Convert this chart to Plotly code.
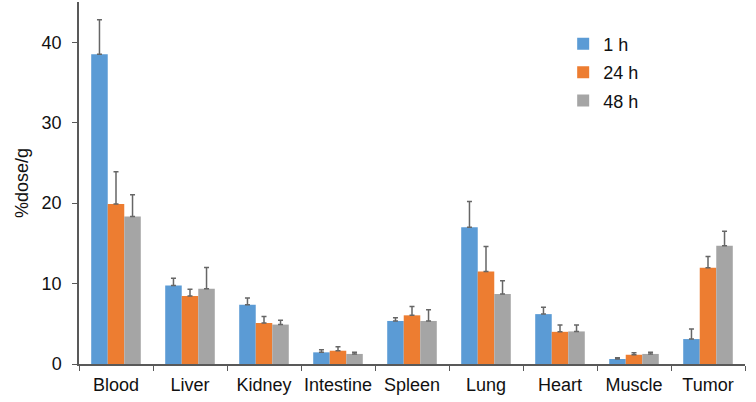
import plotly.graph_objects as go

categories = ["Blood", "Liver", "Kidney", "Intestine", "Spleen", "Lung", "Heart", "Muscle", "Tumor"]
series_names = ["1 h", "24 h", "48 h"]
vals_1h = [38.5, 9.75, 7.35, 1.45, 5.35, 17.0, 6.2, 0.62, 3.1]
err_1h = [4.3, 0.9, 0.85, 0.33, 0.4, 3.2, 0.85, 0.16, 1.25]
vals_24h = [19.9, 8.45, 5.1, 1.65, 6.05, 11.5, 4.0, 1.15, 11.95]
err_24h = [4.0, 0.85, 0.8, 0.5, 1.1, 3.1, 0.85, 0.25, 1.4]
vals_48h = [18.35, 9.35, 4.9, 1.25, 5.35, 8.7, 4.05, 1.25, 14.7]
err_48h = [2.7, 2.65, 0.55, 0.22, 1.4, 1.65, 0.8, 0.2, 1.8]
colors = ["#5B9BD5", "#ED7D31", "#A5A5A5"]
y_ticks = [0, 10, 20, 30, 40]

FONT = "Liberation Sans, Arial, sans-serif"

fig = go.Figure()
for name, vals, errs, col in zip(series_names, [vals_1h, vals_24h, vals_48h],
                                 [err_1h, err_24h, err_48h], colors):
    fig.add_trace(go.Bar(
        x=categories, y=vals, name=name, legendgroup=name,
        marker=dict(color=col, line=dict(width=0)),
        error_y=dict(type="data", array=errs, arrayminus=[0] * len(errs),
                     symmetric=False, color="#666666", thickness=1.5, width=2.5),
    ))

fig.update_layout(
    width=756, height=402,
    margin=dict(l=79, r=11, t=2, b=38),
    paper_bgcolor="white", plot_bgcolor="white",
    barmode="group", bargap=0.33, bargroupgap=0,
    font=dict(family=FONT, size=18, color="#111111"),
    showlegend=True,
    legend=dict(x=0.727, y=0.935, xanchor="left", yanchor="top",
                font=dict(size=18, family=FONT), tracegroupgap=2,
                bgcolor="rgba(0,0,0,0)", itemwidth=30),
    xaxis=dict(type="category", tickson="boundaries", ticks="outside", ticklen=5,
               tickcolor="#595959", showline=True, linecolor="#595959", linewidth=1.5,
               showgrid=False, range=[-0.5, 8.5], tickfont=dict(size=18),
               tickangle=0, automargin=False, ticklabelstandoff=4),
    yaxis=dict(range=[0, 45], tickvals=y_ticks, ticks="outside", ticklen=5,
               tickcolor="#595959", showline=True, linecolor="#595959", linewidth=1.5,
               showgrid=False, zeroline=False, tickfont=dict(size=18),
               ticklabelstandoff=7, automargin=False,
               title=dict(text="%dose/g", font=dict(size=18), standoff=8)),
)

fig.write_html("out.html")
